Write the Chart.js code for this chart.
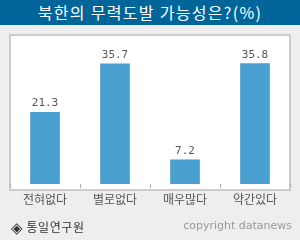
<!DOCTYPE html>
<html>
<head>
<meta charset="utf-8">
<script src="https://cdn.jsdelivr.net/npm/chart.js@4"></script>
<style>
    html, body { margin: 0; padding: 0; }
    body { width: 300px; height: 240px; background: #eeeeee; position: relative; overflow: hidden; }
    .title-bar {
        position: absolute; left: 0; top: 0; width: 300px; height: 25px;
        background: #006699; color: #ffffff; text-align: center;
        font: 16px "Noto Sans CJK KR", sans-serif; line-height: 25px; letter-spacing: 1.3px;
    }
    .source {
        position: absolute; left: 11px; top: 218px;
        font: 12px "Noto Sans CJK KR", sans-serif; color: #333333; letter-spacing: 0.6px;
    }
    .source .mark { font: 15px "DejaVu Sans", sans-serif; vertical-align: -1px; }
    .copy {
        position: absolute; right: 8px; top: 219px;
        font: 11px "DejaVu Sans", sans-serif; color: #999999;
    }
    #chart { position: absolute; left: 0; top: 0; }
</style>
</head>
<body>
<div class="title-bar">북한의 무력도발 가능성은?(%)</div>
<canvas id="chart" width="300" height="240"></canvas>
<div class="source"><span class="mark">◈</span> 통일연구원</div>
<div class="copy">copyright datanews</div>

<script>
// Données
const categories = ['전혀없다', '별로없다', '매우많다', '약간있다'];
const values = [21.3, 35.7, 7.2, 35.8];

// Cadre blanc derrière le graphique
const framePlugin = {
    id: 'frame',
    beforeDraw(chart) {
        const ctx = chart.ctx;
        ctx.save();
        ctx.fillStyle = '#ffffff';
        ctx.fillRect(10, 35, 280, 155);
        ctx.strokeStyle = '#cccccc';
        ctx.lineWidth = 2;
        ctx.strokeRect(10, 35, 280, 155);
        ctx.restore();
    }
};

// Valeurs au-dessus des barres
const valueLabels = {
    id: 'valueLabels',
    afterDatasetsDraw(chart) {
        const ctx = chart.ctx;
        const meta = chart.getDatasetMeta(0);
        ctx.save();
        ctx.font = '11px "DejaVu Sans Mono", monospace';
        ctx.fillStyle = '#555555';
        ctx.textAlign = 'center';
        ctx.textBaseline = 'alphabetic';
        meta.data.forEach((bar, i) => {
            ctx.fillText(values[i].toFixed(1), bar.x, bar.y - 6);
        });
        ctx.restore();
    }
};

const ctx = document.getElementById('chart').getContext('2d');
new Chart(ctx, {
    type: 'bar',
    data: {
        labels: categories,
        datasets: [{
            data: values,
            backgroundColor: '#489fd0',
            barThickness: 29
        }]
    },
    options: {
        responsive: false,
        animation: false,
        layout: {
            padding: { left: 10, right: 10, top: 36, bottom: 29.6 }
        },
        plugins: {
            legend: { display: false },
            tooltip: { enabled: false }
        },
        scales: {
            x: {
                border: { display: false },
                grid: {
                    drawOnChartArea: false,
                    drawTicks: true,
                    tickLength: 4,
                    color: '#aaaaaa',
                    offset: true
                },
                ticks: {
                    color: '#555555',
                    padding: 4,
                    font: { family: '"Noto Sans CJK KR", sans-serif', size: 12 }
                }
            },
            y: {
                display: false,
                min: 0,
                max: 44
            }
        }
    },
    plugins: [framePlugin, valueLabels]
});
</script>
</body>
</html>
